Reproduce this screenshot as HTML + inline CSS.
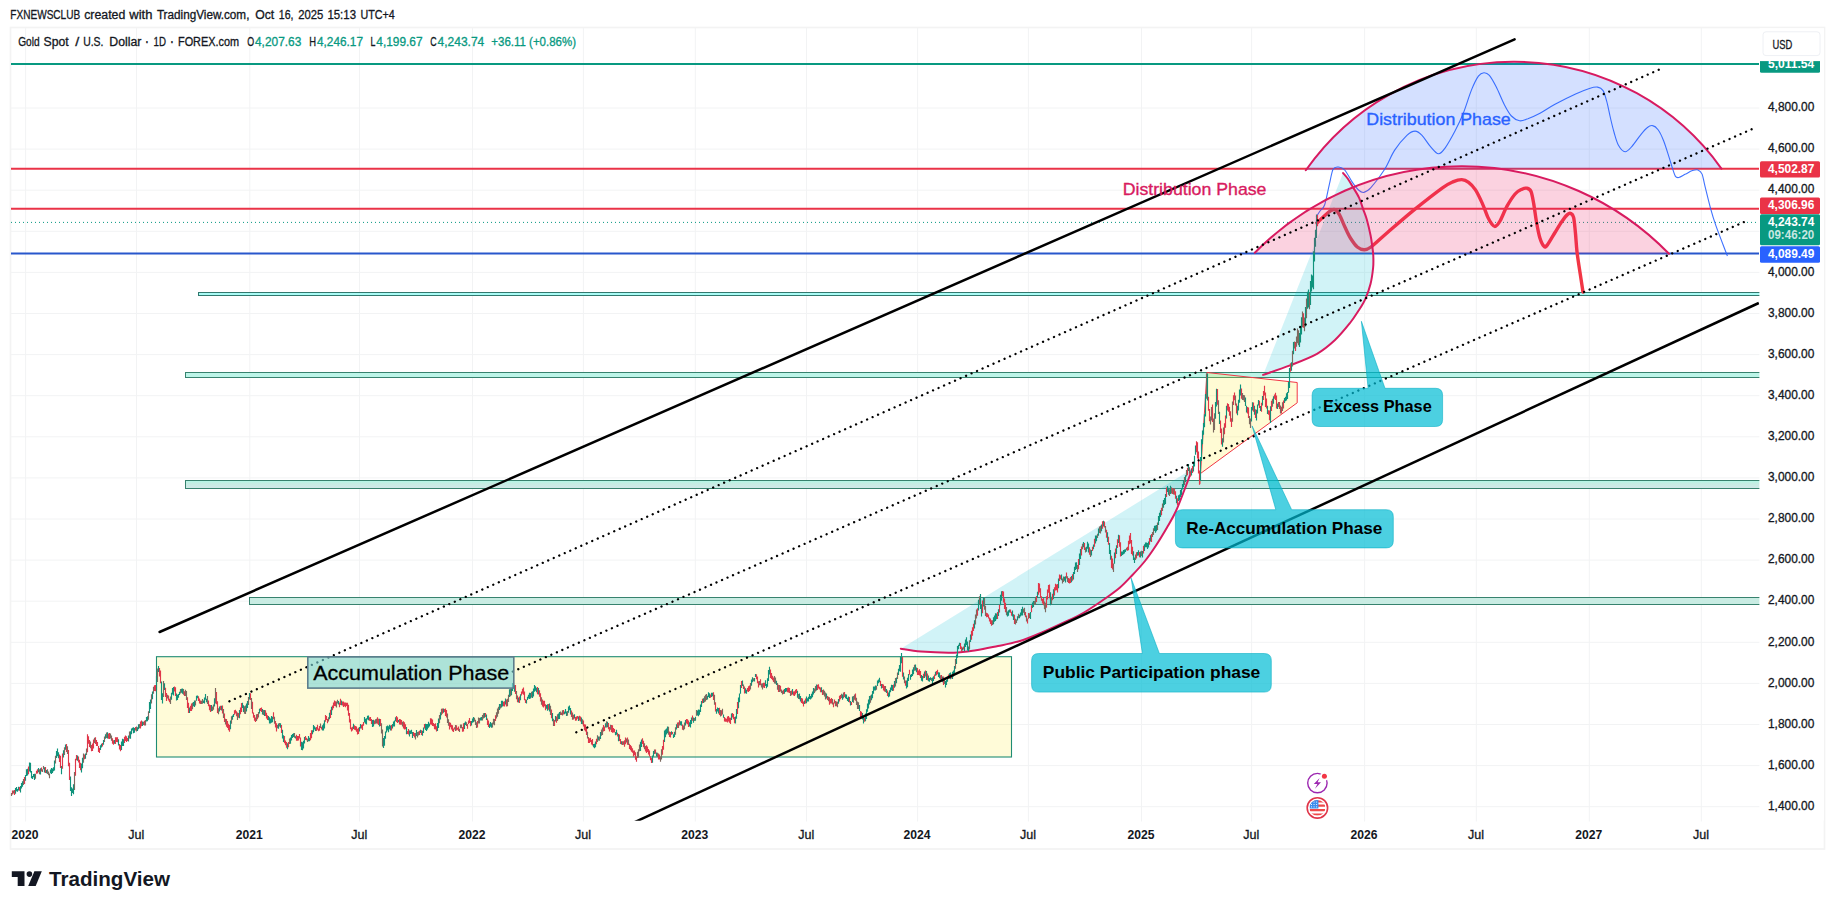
<!DOCTYPE html>
<html lang="en"><head><meta charset="utf-8"><title>Gold Spot / U.S. Dollar</title>
<style>html,body{margin:0;padding:0;background:#fff}body{width:1835px;height:909px;overflow:hidden}svg{display:block}text{font-family:'Liberation Sans', 'DejaVu Sans', sans-serif}.t{stroke:#131722;stroke-width:.3px}.g{stroke:#089981;stroke-width:.3px}</style>
</head><body>
<svg width="1835" height="909" viewBox="0 0 1835 909">
<rect width="1835" height="909" fill="#fff"/>
<rect x="10.5" y="27.5" width="1814" height="821.5" fill="none" stroke="#f3f3f3" stroke-width="1.7"/>
<path d="M25.6,28V821.5M136.5,28V821.5M249.8,28V821.5M359.5,28V821.5M472.5,28V821.5M583.4,28V821.5M695.3,28V821.5M806.5,28V821.5M917.6,28V821.5M1028.4,28V821.5M1141.5,28V821.5M1251.6,28V821.5M1364.6,28V821.5M1476.3,28V821.5M1589.3,28V821.5M1701.3,28V821.5M11,806.7H1760M11,765.6H1760M11,724.5H1760M11,683.4H1760M11,642.3H1760M11,601.2H1760M11,560.1H1760M11,519.0H1760M11,477.9H1760M11,436.8H1760M11,395.7H1760M11,354.6H1760M11,313.5H1760M11,272.4H1760M11,231.3H1760M11,190.2H1760M11,149.1H1760M11,108.0H1760" stroke="#f2f3f4" stroke-width="1" fill="none"/>
<rect x="198.5" y="292.5" width="1567.5" height="3.0" fill="#a8fbf5" stroke="#32786e" stroke-width="1"/>
<rect x="185.5" y="372.5" width="1580.5" height="5.0" fill="#bcf5e8" stroke="#37826e" stroke-width="1"/>
<linearGradient id="bg" x1="0" y1="0" x2="0" y2="1"><stop offset="0" stop-color="#aefae6"/><stop offset="0.35" stop-color="#c4ede3"/><stop offset="1" stop-color="#d2e8e8"/></linearGradient>
<rect x="185.5" y="480.5" width="1580.5" height="8.0" fill="url(#bg)" stroke="#37826e" stroke-width="1"/>
<rect x="249.5" y="597.5" width="1516.5" height="7.0" fill="#c9ece3" stroke="#37826e" stroke-width="1"/>
<rect x="156.5" y="656.7" width="855" height="100.3" fill="rgba(255,235,59,0.2)" stroke="#1f8c74" stroke-width="1.1"/>
<path d="M11,63.9H1759" stroke="#089981" stroke-width="2"/>
<path d="M11,168.8H1759" stroke="#ea3347" stroke-width="2"/>
<path d="M11,208.8H1759" stroke="#ea3347" stroke-width="2"/>
<path d="M11,222.4H1759" stroke="#089981" stroke-width="1" stroke-dasharray="1 3"/>
<path d="M11,253.6H1759" stroke="#2857cc" stroke-width="2"/>
<path d="M1316.2,217.0 C1316.8,216.0 1318.6,213.1 1320.0,211.0 C1321.4,208.9 1323.2,209.1 1324.7,204.7 C1326.2,200.3 1327.9,190.6 1329.3,184.7 C1330.7,178.8 1331.6,172.2 1333.1,169.3 C1334.6,166.4 1336.6,166.9 1338.5,167.0 C1340.4,167.1 1342.4,167.4 1344.7,170.0 C1347.0,172.6 1350.1,179.1 1352.4,182.4 C1354.7,185.7 1356.6,188.3 1358.5,190.0 C1360.4,191.7 1361.8,192.8 1363.9,192.4 C1366.0,192.0 1367.4,191.5 1370.9,187.7 C1374.4,183.8 1380.8,175.5 1384.7,169.3 C1388.6,163.1 1390.8,156.1 1394.5,150.4 C1398.2,144.7 1403.5,138.5 1406.9,135.3 C1410.3,132.1 1412.6,131.1 1415.1,131.1 C1417.6,131.1 1419.5,132.8 1422.0,135.3 C1424.5,137.8 1427.5,143.2 1430.3,146.3 C1433.0,149.4 1436.0,153.6 1438.5,153.8 C1441.0,154.0 1442.7,151.4 1445.4,147.6 C1448.2,143.8 1452.0,136.8 1455.0,131.1 C1458.0,125.4 1460.5,120.2 1463.3,113.3 C1466.0,106.4 1469.0,96.1 1471.5,89.9 C1474.0,83.7 1476.3,79.0 1478.4,76.1 C1480.5,73.2 1482.1,72.8 1483.9,72.7 C1485.7,72.6 1487.3,73.0 1489.4,75.4 C1491.5,77.8 1493.8,82.2 1496.3,87.1 C1498.8,92.0 1502.0,100.2 1504.5,105.0 C1507.0,109.8 1508.9,113.4 1511.4,116.0 C1513.9,118.6 1516.8,120.3 1519.6,120.8 C1522.3,121.3 1524.5,120.0 1527.9,118.8 C1531.3,117.5 1535.5,115.7 1540.0,113.3 C1544.5,110.9 1549.1,107.5 1555.0,104.3 C1560.9,101.1 1569.9,96.6 1575.6,94.0 C1581.3,91.4 1585.7,89.7 1589.4,88.5 C1593.1,87.3 1595.3,86.8 1597.6,87.1 C1599.9,87.4 1601.6,88.3 1603.1,90.6 C1604.6,92.9 1605.4,96.7 1606.6,100.9 C1607.8,105.1 1608.8,110.7 1610.0,116.0 C1611.2,121.3 1612.7,127.7 1614.1,132.5 C1615.5,137.3 1616.5,141.7 1618.3,144.9 C1620.1,148.1 1622.8,151.6 1625.1,151.8 C1627.4,152.0 1629.5,149.1 1632.0,146.3 C1634.5,143.6 1637.8,138.4 1640.3,135.3 C1642.8,132.2 1645.0,129.3 1647.1,127.7 C1649.1,126.1 1650.8,125.2 1652.6,125.6 C1654.4,125.9 1656.3,127.3 1658.1,129.8 C1659.9,132.3 1661.8,136.2 1663.6,140.8 C1665.4,145.4 1667.7,153.0 1669.1,157.3 C1670.5,161.6 1670.9,163.4 1671.9,166.5 C1672.9,169.6 1674.2,174.3 1675.3,176.1 C1676.4,177.9 1677.1,177.8 1678.8,177.5 C1680.5,177.2 1683.3,175.2 1685.6,174.1 C1687.9,172.9 1690.4,171.3 1692.5,170.6 C1694.6,169.9 1696.4,169.3 1698.0,169.9 C1699.6,170.5 1700.9,171.4 1702.1,174.1 C1703.2,176.8 1703.5,180.2 1704.9,185.8 C1706.3,191.4 1708.6,201.2 1710.4,207.8 C1712.2,214.4 1713.1,217.6 1715.9,225.6 C1718.7,233.6 1725.5,250.9 1727.4,256.0" fill="none" stroke="#2962ff" stroke-width="1.1" opacity="0.9"/>
<path d="M1317.0,223.0 C1318.2,221.8 1322.0,218.1 1324.3,216.0 C1326.6,213.9 1329.3,211.5 1331.1,210.5 C1332.9,209.5 1333.9,209.1 1335.3,209.8 C1336.7,210.5 1337.8,211.7 1339.4,214.6 C1341.0,217.5 1343.1,223.1 1344.9,227.0 C1346.7,230.9 1348.3,234.7 1350.4,238.0 C1352.5,241.3 1355.0,245.1 1357.3,247.0 C1359.6,248.9 1361.8,249.7 1364.1,249.7 C1366.4,249.7 1367.1,249.9 1371.0,247.0 C1374.9,244.1 1380.2,238.8 1387.5,232.5 C1394.8,226.2 1405.8,216.5 1415.0,209.1 C1424.2,201.7 1436.1,192.4 1442.5,187.8 C1448.9,183.2 1450.3,183.0 1453.5,181.6 C1456.7,180.2 1459.3,179.5 1461.8,179.6 C1464.3,179.7 1466.3,180.6 1468.6,182.3 C1470.9,184.0 1473.2,186.4 1475.5,189.9 C1477.8,193.4 1480.3,199.0 1482.4,203.6 C1484.5,208.2 1486.3,213.9 1487.9,217.4 C1489.5,220.9 1490.8,222.8 1492.0,224.3 C1493.2,225.8 1494.1,226.9 1495.4,226.3 C1496.7,225.8 1498.1,224.3 1500.0,221.0 C1501.9,217.7 1504.4,210.9 1506.9,206.4 C1509.4,201.9 1512.6,196.9 1515.1,194.0 C1517.6,191.1 1520.0,190.2 1522.0,189.2 C1524.0,188.2 1525.3,187.8 1526.8,188.2 C1528.3,188.5 1529.8,188.7 1530.9,191.3 C1532.1,193.9 1532.8,198.6 1533.7,203.6 C1534.6,208.6 1535.4,215.8 1536.4,221.5 C1537.4,227.2 1538.6,233.9 1539.9,238.0 C1541.2,242.1 1542.8,245.2 1544.0,246.3 C1545.2,247.5 1545.6,247.2 1547.4,244.9 C1549.2,242.6 1552.6,236.4 1555.0,232.5 C1557.4,228.6 1559.8,224.5 1561.9,221.5 C1564.0,218.5 1565.9,215.9 1567.4,214.6 C1568.9,213.3 1569.8,213.0 1570.8,213.5 C1571.8,214.0 1572.8,214.2 1573.6,217.4 C1574.4,220.6 1574.8,226.8 1575.4,232.5 C1576.0,238.2 1576.2,244.7 1577.0,251.8 C1577.8,258.9 1579.4,268.3 1580.4,275.0 C1581.4,281.7 1582.6,289.2 1583.0,292.0" fill="none" stroke="#f23645" stroke-width="3.4" stroke-linejoin="round" stroke-linecap="round"/>
<path d="M900.8,648.7 C904.2,649.2 912.1,650.9 921.0,651.6 C929.9,652.3 944.8,652.9 954.0,652.7 C963.2,652.5 968.7,651.4 976.0,650.3 C983.3,649.2 990.7,647.5 998.0,646.0 C1005.3,644.5 1012.7,643.2 1020.0,641.0 C1027.3,638.8 1034.7,635.6 1042.0,632.5 C1049.3,629.4 1057.0,625.8 1064.0,622.5 C1071.0,619.2 1077.0,616.6 1084.0,612.5 C1091.0,608.4 1100.0,602.2 1106.0,598.0 C1112.0,593.8 1115.7,591.2 1120.0,587.5 C1124.3,583.8 1127.8,579.9 1132.0,575.5 C1136.2,571.1 1141.0,566.0 1145.0,561.0 C1149.0,556.0 1152.3,551.1 1156.0,545.5 C1159.7,539.9 1163.7,533.2 1167.0,527.5 C1170.3,521.8 1173.2,517.1 1176.0,511.0 C1178.8,504.9 1181.7,497.0 1184.0,491.0 C1186.3,485.0 1188.7,478.7 1190.0,475.0 C1191.3,471.3 1191.7,470.0 1192.0,469.0 Z" fill="rgba(0,188,212,0.18)" stroke="none"/>
<path d="M900.8,648.7 C904.2,649.2 912.1,650.9 921.0,651.6 C929.9,652.3 944.8,652.9 954.0,652.7 C963.2,652.5 968.7,651.4 976.0,650.3 C983.3,649.2 990.7,647.5 998.0,646.0 C1005.3,644.5 1012.7,643.2 1020.0,641.0 C1027.3,638.8 1034.7,635.6 1042.0,632.5 C1049.3,629.4 1057.0,625.8 1064.0,622.5 C1071.0,619.2 1077.0,616.6 1084.0,612.5 C1091.0,608.4 1100.0,602.2 1106.0,598.0 C1112.0,593.8 1115.7,591.2 1120.0,587.5 C1124.3,583.8 1127.8,579.9 1132.0,575.5 C1136.2,571.1 1141.0,566.0 1145.0,561.0 C1149.0,556.0 1152.3,551.1 1156.0,545.5 C1159.7,539.9 1163.7,533.2 1167.0,527.5 C1170.3,521.8 1173.2,517.1 1176.0,511.0 C1178.8,504.9 1181.7,497.0 1184.0,491.0 C1186.3,485.0 1188.7,478.7 1190.0,475.0 C1191.3,471.3 1191.7,470.0 1192.0,469.0" fill="none" stroke="#d81b60" stroke-width="2" stroke-linecap="round"/>
<path d="M1263.1,374.9 C1267.6,373.3 1281.0,368.9 1290.0,365.4 C1299.0,361.9 1309.5,358.0 1317.0,353.8 C1324.5,349.6 1329.5,345.1 1335.0,340.0 C1340.5,334.9 1346.0,328.0 1350.0,323.0 C1354.0,318.0 1356.4,314.0 1359.0,310.0 C1361.6,306.0 1363.5,303.1 1365.4,298.8 C1367.3,294.5 1369.2,289.1 1370.5,284.0 C1371.8,278.9 1372.6,272.7 1373.1,268.0 C1373.6,263.3 1373.4,259.7 1373.3,256.0 C1373.2,252.3 1372.7,249.4 1372.2,246.0 C1371.8,242.6 1371.5,239.9 1370.6,235.5 C1369.7,231.1 1368.0,224.0 1366.8,219.6 C1365.6,215.2 1364.5,213.0 1363.2,209.3 C1361.9,205.6 1360.8,201.4 1359.0,197.6 C1357.2,193.8 1354.2,189.3 1352.4,186.2 C1350.6,183.1 1349.5,181.2 1348.0,179.0 C1346.5,176.8 1343.9,174.1 1343.1,173.1 Z" fill="rgba(0,188,212,0.18)" stroke="none"/>
<path d="M1263.1,374.9 C1267.6,373.3 1281.0,368.9 1290.0,365.4 C1299.0,361.9 1309.5,358.0 1317.0,353.8 C1324.5,349.6 1329.5,345.1 1335.0,340.0 C1340.5,334.9 1346.0,328.0 1350.0,323.0 C1354.0,318.0 1356.4,314.0 1359.0,310.0 C1361.6,306.0 1363.5,303.1 1365.4,298.8 C1367.3,294.5 1369.2,289.1 1370.5,284.0 C1371.8,278.9 1372.6,272.7 1373.1,268.0 C1373.6,263.3 1373.4,259.7 1373.3,256.0 C1373.2,252.3 1372.7,249.4 1372.2,246.0 C1371.8,242.6 1371.5,239.9 1370.6,235.5 C1369.7,231.1 1368.0,224.0 1366.8,219.6 C1365.6,215.2 1364.5,213.0 1363.2,209.3 C1361.9,205.6 1360.8,201.4 1359.0,197.6 C1357.2,193.8 1354.2,189.3 1352.4,186.2 C1350.6,183.1 1349.5,181.2 1348.0,179.0 C1346.5,176.8 1343.9,174.1 1343.1,173.1" fill="none" stroke="#d81b60" stroke-width="2" stroke-linecap="round"/>
<path d="M1207,372.5 L1297.2,382.5 L1297.2,402.8 L1200.5,473.5 Z" fill="rgba(255,235,59,0.22)" stroke="#f23645" stroke-width="1"/>
<path d="M1200.5,473.5 L1199.9,484" stroke="#f23645" stroke-width="1" fill="none"/>
<path d="M15.5,788.0V793.8M16.5,786.9V791.3M17.5,789.1V791.7M18.5,786.8V790.5M20.5,786.1V792.4M21.5,783.0V788.5M22.5,781.2V786.8M25.5,775.0V780.8M26.5,769.2V776.1M27.5,768.8V775.4M29.5,762.6V771.4M30.5,762.7V772.4M31.5,771.0V778.2M32.5,775.9V779.0M33.5,773.9V777.3M34.5,773.8V780.0M38.5,767.9V772.3M40.5,768.2V774.6M44.5,767.2V772.4M46.5,769.9V773.2M50.5,769.5V773.2M51.5,767.9V774.0M52.5,768.5V773.1M53.5,767.2V771.2M54.5,760.6V770.6M56.5,751.1V757.9M57.5,748.5V756.2M58.5,752.2V758.3M61.5,766.1V774.2M63.5,750.3V757.6M65.5,744.5V749.8M70.5,776.6V791.0M71.5,787.2V796.1M72.5,788.6V793.1M73.5,784.3V794.2M77.5,755.4V760.7M81.5,763.6V772.6M82.5,757.8V768.2M85.5,753.4V758.8M100.5,745.2V749.9M101.5,743.7V747.5M103.5,739.9V744.8M105.5,734.3V738.8M107.5,732.2V738.5M114.5,739.9V743.8M118.5,739.3V745.4M121.5,741.6V750.0M122.5,738.7V746.0M123.5,739.3V745.9M128.5,735.5V741.6M130.5,731.2V738.8M131.5,728.6V734.2M132.5,727.8V730.5M133.5,727.3V733.2M134.5,728.1V732.7M137.5,727.2V730.9M138.5,724.2V729.3M142.5,721.5V725.9M146.5,717.1V721.6M147.5,716.2V721.2M149.5,702.1V713.0M150.5,699.5V709.0M152.5,691.5V699.3M156.5,676.3V689.9M158.5,665.9V671.9M161.5,681.5V700.1M162.5,693.2V703.6M164.5,683.3V690.0M171.5,692.7V699.8M172.5,687.9V694.6M173.5,687.1V695.4M176.5,693.5V700.5M177.5,694.7V700.0M178.5,693.9V697.7M179.5,691.8V695.0M181.5,688.8V692.8M182.5,688.6V693.7M189.5,707.5V713.0M193.5,702.1V706.3M194.5,700.6V707.1M196.5,695.8V700.7M197.5,695.5V698.3M203.5,700.6V703.0M204.5,697.6V703.6M205.5,694.0V699.8M206.5,698.8V702.2M211.5,704.9V711.3M214.5,698.3V706.4M219.5,706.5V711.4M221.5,705.8V710.4M230.5,720.6V729.3M232.5,715.5V719.8M233.5,714.0V717.0M239.5,710.0V718.2M242.5,702.7V707.9M243.5,705.2V711.9M246.5,703.4V711.5M247.5,700.9V708.1M249.5,693.0V699.4M259.5,708.7V713.5M262.5,709.1V714.6M264.5,710.0V716.0M268.5,716.1V720.2M269.5,717.3V723.6M270.5,718.5V723.4M271.5,716.1V722.8M272.5,716.7V722.2M278.5,723.4V728.8M280.5,723.2V727.8M282.5,729.7V738.6M283.5,735.2V741.9M287.5,743.2V749.3M290.5,737.5V743.7M291.5,735.0V740.5M292.5,733.9V738.0M293.5,733.2V737.1M295.5,736.2V738.6M301.5,741.7V750.1M302.5,742.3V750.2M303.5,740.7V748.5M304.5,736.9V743.6M308.5,736.0V741.2M309.5,737.8V741.3M312.5,730.2V734.2M313.5,725.1V732.2M314.5,726.2V729.6M315.5,727.6V731.0M322.5,725.2V730.4M323.5,723.5V730.4M324.5,720.2V728.4M329.5,712.8V719.2M331.5,706.8V715.1M338.5,701.1V704.5M341.5,700.4V705.2M353.5,723.8V728.9M359.5,727.0V731.6M360.5,724.1V728.5M364.5,716.9V722.5M365.5,718.7V723.7M366.5,718.2V724.4M367.5,715.7V719.6M368.5,715.4V720.3M372.5,720.0V726.9M373.5,719.7V726.4M379.5,718.7V726.5M383.5,738.0V747.9M384.5,736.0V745.7M385.5,731.4V738.8M386.5,726.3V732.4M387.5,725.5V730.6M388.5,726.3V732.2M389.5,724.8V729.2M390.5,725.4V730.5M392.5,723.9V728.5M393.5,721.4V726.6M394.5,720.5V726.5M395.5,717.3V721.3M398.5,719.9V722.2M406.5,727.1V734.2M409.5,730.6V736.6M410.5,730.6V734.1M411.5,729.7V733.7M412.5,731.9V738.1M416.5,730.1V736.0M420.5,729.7V732.9M422.5,730.7V735.7M423.5,727.5V733.0M425.5,723.7V730.0M426.5,724.1V730.9M427.5,724.0V729.5M428.5,721.8V727.8M429.5,723.5V726.5M437.5,723.1V731.0M438.5,718.6V727.9M440.5,712.2V719.5M443.5,708.6V712.8M464.5,722.8V729.1M465.5,721.4V725.1M471.5,720.9V725.5M472.5,718.5V722.7M473.5,717.0V722.3M480.5,717.5V720.5M481.5,716.9V720.4M484.5,713.0V717.8M486.5,714.4V720.0M489.5,723.7V727.9M490.5,722.0V726.8M491.5,723.2V727.8M499.5,704.1V710.0M501.5,700.8V707.6M502.5,700.7V706.6M505.5,698.6V704.5M509.5,689.3V697.1M511.5,688.5V695.2M512.5,682.9V691.0M514.5,685.3V691.7M518.5,697.5V702.6M520.5,694.2V700.2M526.5,699.8V703.5M527.5,696.7V700.1M528.5,694.8V698.5M529.5,692.8V698.9M530.5,693.0V698.6M532.5,691.2V697.9M533.5,688.4V696.5M534.5,685.0V691.7M535.5,686.3V690.7M536.5,687.7V692.2M538.5,688.1V694.4M546.5,705.0V708.7M547.5,704.2V710.8M549.5,703.4V711.5M552.5,713.1V721.2M555.5,715.9V721.4M558.5,713.4V719.2M559.5,712.1V719.1M564.5,711.4V714.3M565.5,709.1V713.6M566.5,711.4V715.9M568.5,706.4V712.8M569.5,705.4V710.2M570.5,708.0V714.4M574.5,714.2V718.5M578.5,716.6V721.0M581.5,717.4V723.9M593.5,744.0V747.2M594.5,743.8V748.3M595.5,741.4V747.3M598.5,736.4V740.5M600.5,731.9V738.9M605.5,723.3V727.6M607.5,721.7V727.2M615.5,732.1V735.2M616.5,729.8V734.8M618.5,734.1V741.2M621.5,741.3V744.6M640.5,741.7V751.1M641.5,739.4V746.9M652.5,755.5V762.8M653.5,751.0V756.8M656.5,752.4V756.6M664.5,730.6V741.9M665.5,729.6V737.3M666.5,728.6V734.4M667.5,726.6V733.2M671.5,731.3V734.8M673.5,734.3V738.1M674.5,731.8V737.0M676.5,724.3V729.4M680.5,721.3V725.2M681.5,721.3V725.8M685.5,720.0V725.6M689.5,722.2V726.6M690.5,719.9V727.4M691.5,717.5V724.1M693.5,717.6V722.7M695.5,716.7V720.8M697.5,710.4V715.5M698.5,709.6V716.2M699.5,709.8V714.8M700.5,704.5V711.9M701.5,701.1V707.0M703.5,698.3V703.1M707.5,695.7V699.5M708.5,692.2V697.0M709.5,693.3V697.9M711.5,692.8V697.0M712.5,692.8V696.2M716.5,709.1V713.8M717.5,707.5V711.6M718.5,708.1V713.6M723.5,714.5V717.8M731.5,713.5V719.9M735.5,716.5V723.6M736.5,708.9V718.7M738.5,697.6V708.3M739.5,693.4V702.3M740.5,685.0V693.8M742.5,680.4V686.0M745.5,688.2V693.2M746.5,689.8V693.8M751.5,679.5V685.8M752.5,677.3V682.3M754.5,678.0V681.4M755.5,674.0V677.0M765.5,680.3V685.9M766.5,683.9V688.2M767.5,678.2V686.7M768.5,669.9V680.9M769.5,666.8V674.4M776.5,680.7V685.0M784.5,688.9V693.7M785.5,687.9V692.0M786.5,687.9V691.5M792.5,689.0V694.5M797.5,690.8V697.7M799.5,693.6V699.3M800.5,696.1V701.5M804.5,700.4V703.9M806.5,696.6V703.2M807.5,698.3V701.5M808.5,696.7V701.6M809.5,694.1V699.1M810.5,695.9V699.4M811.5,693.7V698.4M812.5,691.6V697.3M813.5,688.0V694.6M816.5,684.6V690.6M821.5,687.3V692.3M826.5,693.4V698.5M838.5,698.9V703.8M842.5,694.6V699.8M845.5,694.2V698.2M846.5,694.4V699.1M847.5,697.8V701.0M848.5,696.4V702.1M850.5,700.9V705.6M852.5,696.5V702.1M859.5,705.1V710.9M862.5,712.9V719.5M863.5,716.2V723.4M865.5,713.6V721.3M866.5,709.3V718.9M867.5,703.4V711.8M868.5,699.6V708.4M869.5,696.0V704.5M871.5,694.6V700.2M872.5,690.9V698.2M873.5,686.6V693.8M874.5,686.4V690.5M875.5,685.5V690.6M877.5,680.6V686.1M878.5,679.4V683.3M879.5,677.8V682.3M881.5,684.1V688.6M886.5,689.0V692.9M888.5,692.5V697.3M889.5,690.2V696.6M890.5,687.4V692.3M891.5,684.8V690.3M892.5,685.1V690.9M894.5,681.1V687.7M896.5,677.5V683.3M898.5,668.7V675.0M899.5,665.0V671.2M900.5,656.5V671.8M901.5,653.1V663.3M903.5,672.5V679.5M906.5,680.6V688.6M907.5,677.8V687.2M908.5,673.9V681.0M910.5,674.7V679.7M911.5,674.0V677.1M912.5,669.4V675.9M913.5,667.2V674.2M915.5,664.5V670.6M916.5,667.4V672.2M921.5,675.1V680.8M922.5,676.1V681.6M924.5,671.5V678.0M926.5,671.1V680.1M928.5,675.6V681.2M929.5,677.9V681.8M930.5,677.3V680.0M932.5,677.5V684.3M933.5,676.3V681.0M935.5,671.7V675.8M938.5,672.2V676.9M939.5,672.6V678.3M942.5,676.6V682.2M945.5,681.1V687.5M946.5,680.1V685.1M947.5,676.6V681.7M949.5,673.3V678.7M950.5,672.5V679.3M952.5,671.7V679.1M953.5,670.5V676.5M954.5,665.9V672.9M956.5,654.5V664.1M957.5,646.1V657.8M958.5,644.7V649.3M959.5,642.7V646.1M962.5,647.6V650.5M964.5,643.4V651.2M965.5,639.4V646.9M966.5,637.2V644.9M967.5,641.4V650.6M968.5,646.4V651.6M970.5,634.4V642.1M974.5,620.3V628.4M978.5,599.7V610.4M980.5,594.0V609.1M981.5,604.3V616.5M983.5,596.9V606.6M993.5,617.2V624.3M994.5,615.4V621.8M995.5,613.3V620.9M996.5,613.6V619.3M998.5,609.3V615.9M1000.5,594.8V605.3M1001.5,591.2V600.7M1007.5,611.5V616.6M1008.5,610.3V615.7M1009.5,609.6V612.6M1012.5,610.4V616.6M1013.5,614.2V620.1M1017.5,616.2V620.6M1019.5,614.7V618.3M1020.5,612.6V616.5M1021.5,609.0V615.4M1022.5,606.8V615.4M1030.5,612.0V619.1M1032.5,602.4V608.0M1033.5,601.1V606.9M1037.5,591.7V598.0M1050.5,592.2V605.2M1053.5,589.2V598.9M1058.5,578.5V588.3M1061.5,574.6V580.2M1064.5,576.8V580.7M1065.5,576.3V582.4M1071.5,575.9V582.2M1073.5,572.1V579.5M1074.5,566.8V573.9M1075.5,562.6V570.1M1076.5,562.3V569.0M1079.5,553.6V565.0M1080.5,549.0V558.9M1083.5,541.9V547.2M1086.5,546.8V551.8M1087.5,541.8V548.7M1088.5,543.4V552.4M1091.5,550.1V555.4M1093.5,544.4V549.3M1095.5,535.4V543.6M1096.5,535.4V541.2M1098.5,528.5V535.7M1101.5,524.5V531.2M1103.5,520.8V526.5M1107.5,532.3V542.0M1109.5,542.9V554.1M1110.5,550.0V559.8M1114.5,552.6V563.8M1116.5,545.3V554.0M1118.5,534.7V543.1M1121.5,551.5V556.1M1122.5,551.4V555.1M1123.5,549.9V554.2M1124.5,549.6V553.6M1125.5,549.2V552.0M1133.5,551.2V559.9M1134.5,557.6V562.9M1137.5,551.9V555.8M1138.5,550.3V555.4M1140.5,551.5V557.5M1142.5,551.1V557.5M1144.5,544.2V551.0M1145.5,542.5V547.3M1146.5,542.6V547.2M1147.5,543.0V548.9M1148.5,541.4V547.4M1150.5,535.2V541.4M1154.5,525.7V530.9M1155.5,525.5V532.7M1156.5,525.1V531.3M1158.5,516.1V525.1M1159.5,512.7V521.1M1160.5,510.3V516.9M1163.5,499.9V507.7M1164.5,498.0V504.9M1165.5,494.0V504.1M1167.5,486.1V492.1M1168.5,487.8V494.7M1170.5,485.8V493.9M1176.5,495.8V503.3M1178.5,495.2V500.9M1179.5,494.6V500.2M1180.5,490.0V497.0M1181.5,488.4V495.0M1182.5,484.1V489.4M1183.5,480.3V486.9M1185.5,475.2V482.0M1188.5,464.0V470.9M1191.5,469.3V475.4M1193.5,462.3V471.5M1194.5,455.8V466.5M1195.5,445.6V454.8M1200.5,457.1V481.1M1201.5,439.2V461.1M1202.5,430.4V444.2M1203.5,423.0V434.8M1204.5,414.2V427.2M1205.5,394.0V416.4M1207.5,373.6V400.5M1215.5,402.0V418.7M1216.5,388.8V406.4M1219.5,411.8V424.1M1222.5,438.3V446.8M1226.5,405.8V418.6M1237.5,405.8V415.2M1238.5,399.8V410.4M1239.5,389.5V402.7M1240.5,384.5V395.4M1245.5,397.4V406.1M1246.5,405.8V412.4M1251.5,407.0V421.5M1252.5,402.3V410.4M1254.5,405.7V414.7M1256.5,409.8V420.5M1257.5,404.4V413.6M1258.5,400.1V405.4M1260.5,406.0V411.0M1262.5,396.1V405.6M1267.5,405.7V413.9M1270.5,406.3V423.0M1273.5,396.2V403.7M1277.5,403.6V409.0M1284.5,398.1V403.1M1285.5,396.8V401.2M1286.5,393.3V400.4M1287.5,392.1V399.1M1288.5,382.1V392.7M1289.5,368.1V388.0M1291.5,362.2V370.8M1293.5,342.0V354.2M1299.5,333.1V347.0M1300.5,325.9V342.5M1301.5,317.2V334.5M1305.5,306.9V326.6M1307.5,291.7V308.8M1308.5,289.6V307.6M1310.5,280.9V305.1M1311.5,274.6V291.5M1312.5,275.4V287.4M1313.5,251.3V289.3M1314.5,237.7V261.4M1315.5,229.7V246.7M1316.5,214.6V238.0" stroke="#0f937c" stroke-width="1.15" fill="none"/>
<path d="M12.5,790.5V794.6M14.5,789.9V794.9M19.5,787.1V790.8M24.5,777.1V783.9M28.5,766.4V774.2M36.5,770.7V773.8M37.5,769.3V773.5M41.5,767.4V771.6M45.5,767.0V773.0M59.5,754.4V761.9M60.5,755.7V767.9M62.5,753.5V768.8M66.5,744.1V751.9M68.5,750.1V766.3M69.5,762.7V779.9M75.5,758.7V775.8M76.5,755.1V760.3M78.5,756.5V762.6M79.5,759.8V768.1M80.5,762.7V770.2M84.5,754.4V759.3M87.5,734.2V752.3M88.5,736.2V743.8M89.5,739.9V746.9M91.5,745.1V751.2M92.5,743.5V751.1M93.5,739.4V748.5M95.5,737.2V744.0M96.5,739.9V746.0M97.5,742.1V746.0M98.5,746.0V752.1M99.5,748.1V753.1M102.5,742.9V746.4M108.5,733.4V738.8M109.5,733.0V739.0M112.5,738.2V743.7M113.5,740.2V744.8M115.5,737.2V744.1M116.5,737.3V742.1M117.5,737.3V742.3M119.5,743.9V749.5M120.5,745.1V751.3M124.5,736.8V742.9M125.5,735.4V740.9M126.5,736.2V742.0M127.5,738.0V741.1M135.5,726.9V730.5M140.5,721.4V728.6M141.5,720.4V726.2M144.5,720.7V725.5M154.5,685.2V690.9M155.5,685.0V691.3M159.5,668.0V676.4M160.5,670.5V683.3M165.5,687.8V696.9M166.5,693.1V701.0M168.5,695.5V700.5M169.5,698.7V702.3M174.5,686.4V691.6M175.5,687.3V695.9M184.5,691.3V696.0M187.5,697.2V708.1M188.5,702.7V713.0M190.5,705.8V711.1M191.5,703.5V710.9M198.5,696.2V700.9M199.5,698.4V703.4M200.5,700.5V703.9M208.5,700.4V706.2M209.5,704.6V710.2M210.5,705.1V711.9M216.5,691.9V704.3M217.5,701.2V713.0M220.5,705.8V710.1M222.5,705.5V713.4M224.5,713.4V722.1M226.5,719.1V726.8M227.5,721.0V728.1M228.5,723.8V730.3M229.5,725.0V731.7M234.5,710.3V714.7M235.5,709.7V713.6M236.5,711.2V716.2M238.5,713.1V717.8M240.5,707.5V714.3M241.5,703.0V712.0M250.5,693.2V700.1M252.5,701.7V713.5M253.5,712.4V717.8M254.5,715.1V720.7M255.5,717.4V721.9M257.5,714.0V719.3M260.5,708.0V711.1M261.5,707.6V712.0M265.5,710.3V715.9M266.5,712.7V718.6M267.5,715.2V719.9M273.5,712.3V719.2M275.5,721.1V727.4M276.5,723.3V731.6M281.5,724.9V733.1M284.5,736.0V743.3M285.5,740.4V745.3M286.5,741.9V747.8M288.5,742.0V747.2M296.5,734.8V740.8M297.5,735.9V740.7M298.5,736.0V740.6M299.5,734.0V738.5M300.5,737.4V746.6M305.5,736.1V740.1M306.5,737.8V740.2M310.5,732.9V740.3M311.5,730.2V738.3M316.5,727.0V731.0M317.5,724.7V729.8M318.5,728.6V731.3M319.5,725.9V730.7M321.5,726.8V729.6M325.5,714.9V721.7M326.5,716.0V720.0M327.5,719.0V723.3M330.5,709.8V718.1M332.5,705.6V710.2M333.5,702.6V708.3M334.5,700.5V706.1M335.5,701.2V706.3M339.5,702.5V707.2M340.5,698.7V705.0M342.5,701.6V705.4M343.5,701.4V707.0M344.5,702.6V706.3M345.5,702.5V707.3M346.5,702.8V706.0M347.5,702.8V710.4M348.5,704.8V715.7M349.5,713.0V722.5M350.5,719.3V729.2M351.5,727.6V731.6M352.5,726.8V730.4M354.5,725.2V729.8M355.5,726.1V730.3M356.5,726.4V731.7M357.5,728.7V734.4M358.5,727.7V734.1M361.5,724.7V728.4M362.5,724.2V729.9M363.5,722.1V725.8M369.5,717.3V720.7M370.5,717.1V721.0M371.5,718.9V724.1M374.5,720.5V724.3M377.5,717.2V723.7M378.5,718.8V724.9M380.5,719.1V726.1M391.5,725.1V730.4M396.5,716.1V721.9M397.5,717.2V723.1M399.5,719.1V724.4M400.5,719.3V724.8M401.5,720.1V724.8M403.5,721.3V728.5M404.5,722.3V729.5M405.5,724.2V729.3M407.5,731.0V734.1M408.5,729.1V734.6M413.5,732.1V736.0M414.5,733.1V737.5M419.5,730.7V735.1M421.5,730.3V734.9M424.5,724.0V728.6M430.5,718.2V724.5M431.5,718.5V724.8M432.5,719.6V725.9M433.5,722.9V726.2M434.5,723.9V729.2M435.5,723.2V729.5M436.5,726.2V731.6M442.5,708.4V713.7M444.5,708.9V712.1M445.5,708.4V715.9M446.5,709.9V717.4M449.5,722.2V729.5M450.5,722.8V727.3M451.5,724.7V729.4M452.5,725.3V731.2M453.5,728.6V732.1M454.5,727.2V729.4M456.5,725.3V730.5M457.5,727.7V729.8M458.5,726.6V730.9M462.5,727.1V731.7M463.5,723.3V731.6M467.5,723.9V728.8M468.5,720.4V723.9M469.5,718.1V723.1M470.5,720.9V726.2M477.5,721.1V727.6M485.5,713.1V716.9M487.5,718.6V724.9M488.5,720.6V727.0M495.5,715.2V721.0M503.5,701.7V706.3M504.5,701.2V706.5M506.5,699.6V706.6M513.5,682.5V688.0M515.5,685.1V693.9M517.5,695.5V702.2M519.5,696.5V703.0M521.5,691.6V695.6M522.5,688.8V693.7M523.5,687.5V694.8M524.5,691.6V700.3M525.5,699.3V703.0M537.5,687.0V694.2M539.5,690.3V696.7M540.5,693.3V701.6M542.5,699.6V706.4M543.5,700.8V707.5M544.5,700.7V706.2M545.5,704.2V710.2M548.5,704.0V709.8M551.5,709.5V718.2M554.5,719.9V725.9M556.5,716.5V722.8M561.5,712.4V714.9M563.5,710.0V714.5M571.5,710.5V717.0M573.5,714.7V719.6M575.5,717.1V720.8M576.5,716.5V720.6M577.5,715.9V718.7M579.5,715.8V720.4M580.5,716.4V721.5M583.5,720.5V726.4M584.5,724.2V730.3M585.5,724.6V731.6M586.5,727.9V735.0M588.5,737.0V742.9M589.5,738.2V743.1M590.5,737.8V741.9M591.5,739.9V744.6M592.5,739.1V745.4M596.5,738.8V744.3M603.5,725.1V731.6M604.5,726.4V730.9M608.5,722.9V729.3M609.5,727.1V731.5M611.5,725.1V732.1M612.5,725.2V732.7M613.5,727.9V732.5M614.5,728.9V732.6M617.5,732.8V736.5M619.5,734.6V741.1M620.5,739.1V744.0M622.5,741.3V744.9M624.5,740.3V746.8M625.5,737.5V744.3M627.5,737.6V744.7M629.5,743.8V749.0M630.5,745.1V750.3M631.5,746.2V751.8M632.5,748.2V752.7M633.5,750.4V756.4M634.5,750.6V755.2M635.5,752.2V759.8M636.5,756.5V761.8M642.5,738.3V744.0M643.5,740.7V747.2M645.5,746.0V751.4M646.5,745.3V753.0M647.5,746.6V751.9M648.5,748.9V754.4M649.5,750.6V756.4M650.5,756.2V760.3M651.5,758.0V762.9M655.5,749.6V753.8M658.5,753.5V759.6M659.5,754.6V759.6M662.5,746.0V754.8M663.5,739.7V749.7M669.5,731.4V737.0M670.5,732.0V737.5M672.5,732.0V734.2M677.5,722.6V727.9M679.5,720.2V725.4M682.5,724.6V729.7M686.5,719.1V723.6M687.5,719.2V724.3M688.5,720.5V727.1M692.5,715.4V720.7M702.5,698.8V703.2M710.5,694.4V697.7M713.5,692.3V699.9M715.5,702.3V711.4M719.5,707.8V714.9M721.5,710.2V715.8M724.5,716.9V721.6M725.5,718.2V721.8M726.5,718.7V721.7M727.5,716.4V722.5M728.5,716.0V721.5M729.5,717.5V722.8M730.5,717.7V724.0M732.5,712.9V717.5M733.5,714.1V719.2M734.5,717.1V723.3M737.5,702.0V713.9M741.5,680.9V687.9M744.5,686.4V693.4M747.5,688.0V691.6M748.5,686.2V691.9M749.5,685.5V691.1M756.5,674.3V679.2M757.5,676.4V683.2M758.5,681.3V687.6M760.5,679.2V685.2M763.5,682.7V687.5M764.5,682.7V687.9M770.5,669.5V678.0M771.5,673.1V679.0M772.5,675.7V680.3M773.5,677.5V682.0M778.5,684.8V692.1M780.5,685.8V691.5M783.5,689.7V693.9M787.5,687.8V692.3M788.5,687.4V692.5M789.5,688.0V693.0M791.5,690.4V695.2M793.5,691.6V695.4M794.5,691.2V696.0M795.5,689.7V694.5M796.5,688.9V693.1M801.5,697.9V702.9M802.5,698.6V703.7M803.5,701.6V706.6M805.5,698.6V703.4M817.5,684.8V690.1M818.5,684.2V688.6M819.5,686.8V689.4M820.5,687.5V692.2M822.5,689.9V695.0M827.5,696.1V700.1M829.5,697.3V704.7M830.5,699.1V703.4M831.5,698.1V703.4M833.5,702.5V707.3M834.5,699.4V703.6M836.5,701.6V706.3M839.5,695.8V701.4M840.5,694.9V699.3M844.5,692.0V697.0M849.5,697.0V702.5M851.5,702.0V705.0M855.5,693.5V700.8M860.5,711.1V718.8M861.5,711.8V718.2M864.5,717.7V721.8M880.5,680.7V686.0M882.5,683.9V687.9M883.5,684.6V690.5M884.5,686.0V691.4M887.5,690.4V696.0M893.5,684.5V690.7M902.5,657.0V676.7M905.5,680.5V685.7M909.5,669.8V674.7M917.5,668.0V675.0M918.5,670.5V675.0M919.5,669.2V675.4M920.5,671.0V678.0M923.5,673.8V678.2M925.5,670.6V676.4M927.5,673.6V680.3M934.5,674.6V679.0M936.5,671.1V675.2M937.5,669.7V674.3M941.5,675.0V681.2M943.5,676.5V684.9M948.5,674.6V679.1M951.5,675.3V678.6M960.5,642.9V649.1M961.5,646.6V651.7M963.5,646.4V649.6M971.5,630.8V639.8M972.5,627.3V635.7M973.5,623.7V631.1M977.5,608.3V615.8M982.5,600.4V613.3M986.5,612.8V617.3M987.5,613.2V617.1M988.5,614.5V618.4M989.5,617.4V621.6M990.5,618.4V624.0M991.5,620.2V625.7M997.5,612.0V619.1M999.5,604.7V612.6M1002.5,591.1V596.5M1003.5,591.6V602.6M1004.5,598.5V609.1M1005.5,602.8V612.3M1010.5,609.6V612.7M1011.5,611.7V615.8M1014.5,614.7V623.9M1025.5,612.0V617.2M1027.5,618.4V623.4M1028.5,613.1V618.7M1031.5,605.3V612.3M1036.5,595.9V602.1M1038.5,583.0V594.7M1039.5,583.6V592.6M1040.5,588.2V597.5M1041.5,596.3V600.8M1042.5,599.1V603.6M1043.5,598.0V605.2M1046.5,596.3V607.7M1047.5,589.6V599.4M1048.5,585.0V592.8M1049.5,584.5V598.2M1052.5,593.7V600.2M1054.5,587.2V595.6M1055.5,583.7V590.4M1056.5,584.6V590.2M1057.5,584.1V592.6M1059.5,574.5V581.0M1060.5,575.3V579.3M1066.5,572.6V578.6M1068.5,577.9V582.9M1069.5,578.5V583.4M1070.5,577.0V583.0M1072.5,574.2V580.7M1078.5,558.9V569.3M1081.5,546.5V555.5M1084.5,543.0V549.9M1089.5,547.3V554.7M1092.5,546.8V550.9M1094.5,538.7V546.7M1102.5,521.3V528.8M1104.5,521.4V527.5M1106.5,529.7V537.8M1108.5,536.8V544.7M1111.5,555.8V568.1M1112.5,558.4V569.6M1115.5,548.5V558.3M1117.5,539.2V547.9M1119.5,535.3V546.7M1120.5,542.3V556.5M1127.5,546.7V550.8M1128.5,540.7V550.2M1129.5,535.4V544.2M1130.5,533.1V543.4M1131.5,540.1V554.1M1132.5,546.7V555.4M1136.5,552.2V558.6M1139.5,551.9V557.2M1143.5,545.8V553.4M1149.5,537.9V544.7M1151.5,533.9V542.1M1161.5,507.8V515.2M1166.5,487.5V497.0M1172.5,488.1V494.1M1174.5,488.5V494.8M1175.5,491.3V498.7M1177.5,498.3V505.2M1187.5,467.8V475.3M1190.5,471.9V476.6M1192.5,466.1V473.0M1196.5,441.3V452.2M1197.5,442.2V458.5M1198.5,451.6V473.5M1199.5,470.5V484.7M1208.5,396.8V410.8M1209.5,408.9V421.2M1212.5,404.6V422.1M1217.5,389.1V404.8M1220.5,420.4V432.9M1221.5,428.4V444.5M1224.5,423.3V434.2M1225.5,415.6V427.7M1227.5,403.3V410.5M1228.5,403.9V411.7M1229.5,406.8V415.8M1230.5,411.3V421.7M1231.5,418.2V426.9M1233.5,395.3V404.9M1234.5,392.6V400.2M1236.5,403.6V413.4M1241.5,388.4V398.8M1247.5,407.0V413.5M1248.5,407.5V417.9M1253.5,402.6V411.7M1255.5,409.2V418.1M1259.5,400.8V408.0M1261.5,402.8V411.8M1263.5,391.1V400.0M1264.5,385.7V395.6M1265.5,392.6V407.0M1266.5,398.6V408.5M1268.5,410.2V414.7M1269.5,410.6V420.2M1271.5,400.8V411.1M1274.5,394.6V398.7M1275.5,392.7V400.0M1276.5,395.5V408.4M1279.5,402.1V408.9M1281.5,406.7V413.4M1283.5,400.6V408.4M1290.5,363.3V371.7M1295.5,342.1V350.9M1303.5,313.3V327.7M1317.5,215.1V226.2" stroke="#e0374a" stroke-width="1.15" fill="none"/>
<path d="M11.5,793.0V796.1M13.5,790.5V793.6M23.5,779.1V785.1M35.5,773.7V778.8M39.5,769.3V774.3M42.5,769.2V771.9M43.5,766.0V769.3M47.5,769.3V773.9M48.5,771.4V775.2M49.5,773.5V778.2M55.5,755.8V763.6M64.5,747.2V755.0M67.5,746.2V753.9M74.5,772.1V790.0M83.5,753.6V762.7M86.5,748.5V755.1M90.5,741.5V748.3M94.5,737.7V743.0M104.5,736.6V742.1M106.5,732.5V737.9M110.5,733.6V738.6M111.5,735.5V740.7M129.5,731.5V738.4M136.5,726.6V731.5M139.5,724.0V728.2M143.5,721.7V724.9M145.5,719.9V725.5M148.5,711.3V719.7M151.5,694.3V703.4M153.5,686.8V693.7M157.5,668.6V681.9M163.5,681.1V696.9M167.5,694.8V698.6M170.5,696.4V704.1M180.5,689.0V693.4M183.5,689.0V694.8M185.5,689.8V695.9M186.5,690.9V700.0M192.5,702.7V709.2M195.5,700.6V705.6M201.5,700.7V704.1M202.5,698.9V703.7M207.5,696.1V703.9M212.5,706.5V711.0M213.5,704.5V709.7M215.5,688.1V703.5M218.5,708.3V714.2M223.5,709.0V718.1M225.5,718.7V724.4M231.5,716.3V723.7M237.5,712.6V720.0M244.5,706.2V713.7M245.5,705.6V713.9M248.5,697.0V704.9M251.5,697.9V708.9M256.5,714.2V721.0M258.5,712.1V717.4M263.5,709.9V715.1M274.5,716.7V723.8M277.5,724.9V728.3M279.5,722.9V726.6M289.5,738.4V744.0M294.5,733.1V737.8M307.5,738.7V741.9M320.5,723.4V727.9M328.5,717.2V721.4M336.5,701.4V707.4M337.5,699.8V703.4M375.5,719.2V723.7M376.5,718.7V723.5M381.5,723.3V733.4M382.5,729.4V746.4M402.5,721.7V726.4M415.5,733.0V739.4M417.5,732.1V737.6M418.5,731.6V735.6M439.5,715.1V723.2M441.5,708.7V715.3M447.5,713.4V723.0M448.5,719.3V725.8M455.5,725.1V731.0M459.5,728.7V731.9M460.5,724.6V728.2M461.5,724.5V728.2M466.5,722.2V725.9M474.5,717.8V721.6M475.5,719.7V725.0M476.5,722.3V728.0M478.5,717.6V723.5M479.5,718.0V723.6M482.5,714.9V720.6M483.5,713.3V718.4M492.5,722.5V727.4M493.5,718.7V724.6M494.5,719.1V725.2M496.5,712.2V718.6M497.5,708.4V716.8M498.5,706.8V713.8M500.5,703.9V708.5M507.5,698.7V706.2M508.5,694.7V701.9M510.5,688.6V696.3M516.5,690.9V699.2M531.5,691.8V697.5M541.5,697.3V704.8M550.5,705.7V715.0M553.5,718.8V726.1M557.5,714.2V721.1M560.5,711.6V714.9M562.5,710.2V715.5M567.5,710.9V715.7M572.5,712.4V719.7M582.5,719.3V724.3M587.5,731.7V738.4M597.5,735.3V742.1M599.5,736.6V740.7M601.5,729.6V735.8M602.5,727.4V734.9M606.5,721.3V727.4M610.5,724.7V729.8M623.5,741.3V744.8M626.5,738.5V742.4M628.5,739.6V745.0M637.5,751.8V758.0M638.5,749.3V757.4M639.5,744.5V751.3M644.5,743.2V749.3M654.5,749.6V754.0M657.5,752.7V756.9M660.5,756.6V761.7M661.5,749.2V759.5M668.5,726.8V734.8M675.5,727.3V734.8M678.5,722.2V727.9M683.5,725.6V730.2M684.5,722.6V729.3M694.5,718.1V721.1M696.5,710.1V715.8M704.5,696.2V702.3M705.5,694.8V701.4M706.5,693.9V700.0M714.5,694.7V704.8M720.5,710.1V716.5M722.5,708.8V714.6M743.5,684.5V689.1M750.5,683.0V689.4M753.5,678.2V681.3M759.5,681.1V685.2M761.5,683.6V687.4M762.5,683.3V689.6M774.5,676.1V683.5M775.5,677.6V683.8M777.5,682.9V689.8M779.5,684.9V691.9M781.5,689.5V693.1M782.5,690.7V694.5M790.5,691.0V695.9M798.5,694.0V699.1M814.5,688.6V693.1M815.5,686.0V691.6M823.5,689.6V694.7M824.5,690.8V696.5M825.5,692.6V699.4M828.5,696.7V701.3M832.5,699.0V704.6M835.5,701.1V706.2M837.5,701.7V707.3M841.5,693.8V698.1M843.5,692.4V698.2M853.5,696.1V702.7M854.5,694.4V699.7M856.5,697.8V705.1M857.5,701.5V709.1M858.5,702.2V709.0M870.5,695.4V702.8M876.5,685.7V689.8M885.5,685.9V691.9M895.5,678.0V686.5M897.5,672.6V678.9M904.5,676.5V683.2M914.5,664.8V670.8M931.5,677.9V680.9M940.5,675.3V679.5M944.5,678.1V684.1M955.5,659.1V668.7M969.5,640.2V649.6M975.5,614.5V624.4M976.5,609.6V618.5M979.5,596.3V604.3M984.5,597.8V609.7M985.5,605.8V616.0M992.5,620.3V624.9M1006.5,607.0V615.3M1015.5,618.7V624.6M1016.5,619.6V623.0M1018.5,613.8V618.3M1023.5,608.8V612.7M1024.5,607.7V615.3M1026.5,615.4V621.6M1029.5,613.3V617.9M1034.5,600.9V605.1M1035.5,597.8V604.8M1044.5,601.5V609.2M1045.5,602.7V612.3M1051.5,596.8V604.3M1062.5,578.4V583.5M1063.5,576.5V582.1M1067.5,576.2V582.1M1077.5,565.1V572.1M1082.5,543.7V549.3M1085.5,547.6V552.4M1090.5,549.6V557.1M1097.5,533.7V538.0M1099.5,526.6V533.1M1100.5,525.7V533.4M1105.5,526.0V532.6M1113.5,563.6V571.9M1126.5,547.8V550.2M1135.5,554.6V559.9M1141.5,550.7V556.1M1152.5,532.0V537.1M1153.5,528.3V535.0M1157.5,522.5V530.1M1162.5,503.5V511.1M1169.5,489.2V496.1M1171.5,487.2V493.6M1173.5,488.5V494.5M1184.5,476.9V485.0M1186.5,470.0V476.5M1189.5,467.2V473.8M1206.5,373.4V398.8M1210.5,416.5V424.5M1211.5,407.1V420.6M1213.5,418.5V432.4M1214.5,413.3V430.1M1218.5,400.2V414.0M1223.5,427.4V442.5M1232.5,401.5V421.8M1235.5,395.4V405.5M1242.5,393.1V399.9M1243.5,395.0V400.2M1244.5,395.2V402.1M1249.5,416.0V424.3M1250.5,418.5V427.9M1272.5,398.7V406.7M1278.5,401.9V406.9M1280.5,405.4V413.5M1282.5,402.3V410.9M1292.5,350.8V366.4M1294.5,341.6V348.5M1296.5,336.6V346.7M1297.5,328.5V343.2M1298.5,330.2V345.2M1302.5,311.4V327.2M1304.5,317.5V331.2M1306.5,298.5V318.3M1309.5,292.7V309.3" stroke="#7d6a60" stroke-width="1.15" fill="none"/>
<path d="M1305.8,170.3 A254.3,254.3 0 0 1 1721.4,168.6 Z" fill="rgba(41,98,255,0.2)" stroke="none"/>
<path d="M1305.8,170.3 A254.3,254.3 0 0 1 1721.4,168.6" fill="none" stroke="#d81b60" stroke-width="2" stroke-linecap="round"/>
<path d="M1254.8,252.8 A289.8,289.8 0 0 1 1669,253.8 Z" fill="rgba(233,30,99,0.2)" stroke="none"/>
<path d="M1254.8,252.8 A289.8,289.8 0 0 1 1669,253.8" fill="none" stroke="#d81b60" stroke-width="2" stroke-linecap="round"/>
<path d="M159.6,632 L1514.6,39.4" stroke="#000" stroke-width="2.5" stroke-linecap="round"/>
<clipPath id="pane"><rect x="10" y="28" width="1750" height="792.7"/></clipPath>
<path d="M630,824.3 L1758.8,303" stroke="#000" stroke-width="2.5" clip-path="url(#pane)"/>
<path d="M229.4,701.3 L1660,69.2" stroke="#000" stroke-width="2.35" stroke-dasharray="0.01 6" stroke-linecap="round" fill="none"/>
<path d="M512.8,671.6 L1752.3,129" stroke="#000" stroke-width="2.35" stroke-dasharray="0.01 6" stroke-linecap="round" fill="none"/>
<path d="M576.3,732.3 L1746.6,220.9" stroke="#000" stroke-width="2.35" stroke-dasharray="0.01 6" stroke-linecap="round" fill="none"/>
<text x="1122.7" y="194.6" font-size="17" fill="#d81b60" stroke="#d81b60" stroke-width=".35" textLength="143.8" lengthAdjust="spacingAndGlyphs">Distribution Phase</text>
<text x="1366.3" y="125" font-size="17" fill="#2962ff" stroke="#2962ff" stroke-width=".35" textLength="144.4" lengthAdjust="spacingAndGlyphs">Distribution Phase</text>
<rect x="307.8" y="656.9" width="206" height="31.2" fill="rgba(122,211,216,0.62)" stroke="#5d7d8c" stroke-width="1.6"/>
<text x="313.2" y="679.5" font-size="20" fill="#000" stroke="#000" stroke-width=".3" textLength="196" lengthAdjust="spacingAndGlyphs">Accumulation Phase</text>
<path d="M1038.6,653.5 H1142.4 L1131.2,578.2 L1159.4,653.5 H1264.3 Q1271.3,653.5 1271.3,660.5 V685.1 Q1271.3,692.1 1264.3,692.1 H1038.6 Q1031.6,692.1 1031.6,685.1 V660.5 Q1031.6,653.5 1038.6,653.5 Z" fill="rgba(0,188,212,0.7)" stroke="rgba(0,172,193,0.55)" stroke-width="1"/>
<text x="1042.8" y="677.8" font-size="17" font-weight="bold" fill="#000" textLength="217.5" lengthAdjust="spacingAndGlyphs">Public Participation phase</text>
<path d="M1182.4,509.7 H1275.8 L1252.1,425.9 L1291.7,509.7 H1386.3 Q1393.3,509.7 1393.3,516.7 V540.9 Q1393.3,547.9 1386.3,547.9 H1182.4 Q1175.4,547.9 1175.4,540.9 V516.7 Q1175.4,509.7 1182.4,509.7 Z" fill="rgba(0,188,212,0.7)" stroke="rgba(0,172,193,0.55)" stroke-width="1"/>
<text x="1186.3" y="533.5" font-size="17" font-weight="bold" fill="#000" textLength="196.0" lengthAdjust="spacingAndGlyphs">Re-Accumulation Phase</text>
<path d="M1319.1,388.3 H1368.1 L1361.4,321.3 L1385.0,388.3 H1435.6 Q1442.6,388.3 1442.6,395.3 V419.5 Q1442.6,426.5 1435.6,426.5 H1319.1 Q1312.1,426.5 1312.1,419.5 V395.3 Q1312.1,388.3 1319.1,388.3 Z" fill="rgba(0,188,212,0.7)" stroke="rgba(0,172,193,0.55)" stroke-width="1"/>
<text x="1323.0" y="412.1" font-size="17" font-weight="bold" fill="#000" textLength="108.7" lengthAdjust="spacingAndGlyphs">Excess Phase</text>
<g transform="translate(1317.4,783.1)"><circle r="9.7" fill="#fff" stroke="#9c27b0" stroke-width="1.4"/><circle cx="7" cy="-6.8" r="4.4" fill="#fff"/><circle cx="7" cy="-6.8" r="2.5" fill="#f23645"/><path d="M2.2,-5.2 L-3.6,1 H0 L-2.4,5.6 L3.6,-0.9 H0.2 Z" fill="#9c27b0"/></g>
<g transform="translate(1317.4,807.9)"><circle r="10.2" fill="#fff" stroke="#e0364a" stroke-width="1.6"/><clipPath id="fl"><circle r="7.9"/></clipPath><g clip-path="url(#fl)"><rect x="-8" y="-8" width="16" height="16" fill="#fff"/><path d="M-8,-6.6H8M-8,-2.2H8M-8,2.2H8M-8,6.6H8" stroke="#ef4a4a" stroke-width="2.2"/><rect x="-8" y="-8" width="9" height="8.6" fill="#3b8def"/><path d="M-6,-5.8h.1M-3.4,-5.8h.1M-.8,-5.8h.1M-6,-3.4h.1M-3.4,-3.4h.1M-.8,-3.4h.1M-6,-1h.1M-3.4,-1h.1M-.8,-1h.1" stroke="#fff" stroke-width="1" stroke-linecap="round"/></g></g>
<rect x="1759.4" y="28.5" width="64.6" height="792" fill="#fff"/>
<text x="1768" y="809.9" class="t" font-size="12" fill="#131722" textLength="46.3" lengthAdjust="spacingAndGlyphs">1,400.00</text>
<text x="1768" y="768.8" class="t" font-size="12" fill="#131722" textLength="46.3" lengthAdjust="spacingAndGlyphs">1,600.00</text>
<text x="1768" y="727.7" class="t" font-size="12" fill="#131722" textLength="46.3" lengthAdjust="spacingAndGlyphs">1,800.00</text>
<text x="1768" y="686.6" class="t" font-size="12" fill="#131722" textLength="46.3" lengthAdjust="spacingAndGlyphs">2,000.00</text>
<text x="1768" y="645.5" class="t" font-size="12" fill="#131722" textLength="46.3" lengthAdjust="spacingAndGlyphs">2,200.00</text>
<text x="1768" y="604.4" class="t" font-size="12" fill="#131722" textLength="46.3" lengthAdjust="spacingAndGlyphs">2,400.00</text>
<text x="1768" y="563.3" class="t" font-size="12" fill="#131722" textLength="46.3" lengthAdjust="spacingAndGlyphs">2,600.00</text>
<text x="1768" y="522.2" class="t" font-size="12" fill="#131722" textLength="46.3" lengthAdjust="spacingAndGlyphs">2,800.00</text>
<text x="1768" y="481.1" class="t" font-size="12" fill="#131722" textLength="46.3" lengthAdjust="spacingAndGlyphs">3,000.00</text>
<text x="1768" y="440.0" class="t" font-size="12" fill="#131722" textLength="46.3" lengthAdjust="spacingAndGlyphs">3,200.00</text>
<text x="1768" y="398.9" class="t" font-size="12" fill="#131722" textLength="46.3" lengthAdjust="spacingAndGlyphs">3,400.00</text>
<text x="1768" y="357.8" class="t" font-size="12" fill="#131722" textLength="46.3" lengthAdjust="spacingAndGlyphs">3,600.00</text>
<text x="1768" y="316.7" class="t" font-size="12" fill="#131722" textLength="46.3" lengthAdjust="spacingAndGlyphs">3,800.00</text>
<text x="1768" y="275.6" class="t" font-size="12" fill="#131722" textLength="46.3" lengthAdjust="spacingAndGlyphs">4,000.00</text>
<text x="1768" y="234.5" class="t" font-size="12" fill="#131722" textLength="46.3" lengthAdjust="spacingAndGlyphs">4,200.00</text>
<text x="1768" y="193.4" class="t" font-size="12" fill="#131722" textLength="46.3" lengthAdjust="spacingAndGlyphs">4,400.00</text>
<text x="1768" y="152.3" class="t" font-size="12" fill="#131722" textLength="46.3" lengthAdjust="spacingAndGlyphs">4,600.00</text>
<text x="1768" y="111.2" class="t" font-size="12" fill="#131722" textLength="46.3" lengthAdjust="spacingAndGlyphs">4,800.00</text>
<rect x="1760" y="55.5" width="60" height="17.2" fill="#089981" rx="1.5"/>
<text x="1768" y="67.7" font-size="12" font-weight="bold" fill="#fff" fill-opacity="1" textLength="46.3" lengthAdjust="spacingAndGlyphs">5,011.54</text>
<rect x="1760" y="161.3" width="60" height="16.3" fill="#ea3347" rx="1.5"/>
<text x="1768" y="172.7" font-size="12" font-weight="bold" fill="#fff" fill-opacity="1" textLength="46.3" lengthAdjust="spacingAndGlyphs">4,502.87</text>
<rect x="1760" y="197.4" width="60" height="16.5" fill="#ea3347" rx="1.5"/>
<text x="1768" y="208.6" font-size="12" font-weight="bold" fill="#fff" fill-opacity="1" textLength="46.3" lengthAdjust="spacingAndGlyphs">4,306.96</text>
<rect x="1760" y="214.2" width="60" height="31.0" fill="#089981" rx="1.5"/>
<text x="1768" y="226.4" font-size="12" font-weight="bold" fill="#fff" fill-opacity="1" textLength="46.3" lengthAdjust="spacingAndGlyphs">4,243.74</text>
<text x="1768" y="239.4" font-size="12" font-weight="bold" fill="#fff" fill-opacity="0.78" textLength="46.3" lengthAdjust="spacingAndGlyphs">09:46:20</text>
<rect x="1760" y="246.2" width="60" height="16.5" fill="#2962ff" rx="1.5"/>
<text x="1768" y="257.7" font-size="12" font-weight="bold" fill="#fff" fill-opacity="1" textLength="46.3" lengthAdjust="spacingAndGlyphs">4,089.49</text>
<rect x="1760" y="28.5" width="64" height="32.6" fill="#fff"/>
<rect x="1763" y="31.8" width="57" height="23.8" rx="3" fill="#fff" stroke="#eef0f4" stroke-width="1"/>
<text x="1772.5" y="48.8" class="t" font-size="12" fill="#131722" textLength="19.8" lengthAdjust="spacingAndGlyphs">USD</text>
<text x="25.1" y="839.2" font-size="12" font-weight="bold" fill="#131722" text-anchor="middle" textLength="27" lengthAdjust="spacingAndGlyphs">2020</text>
<text x="136.2" y="839.2" class="t" font-size="12" fill="#131722" text-anchor="middle" textLength="16" lengthAdjust="spacingAndGlyphs">Jul</text>
<text x="249.3" y="839.2" font-size="12" font-weight="bold" fill="#131722" text-anchor="middle" textLength="27" lengthAdjust="spacingAndGlyphs">2021</text>
<text x="359.2" y="839.2" class="t" font-size="12" fill="#131722" text-anchor="middle" textLength="16" lengthAdjust="spacingAndGlyphs">Jul</text>
<text x="472.0" y="839.2" font-size="12" font-weight="bold" fill="#131722" text-anchor="middle" textLength="27" lengthAdjust="spacingAndGlyphs">2022</text>
<text x="583.1" y="839.2" class="t" font-size="12" fill="#131722" text-anchor="middle" textLength="16" lengthAdjust="spacingAndGlyphs">Jul</text>
<text x="694.8" y="839.2" font-size="12" font-weight="bold" fill="#131722" text-anchor="middle" textLength="27" lengthAdjust="spacingAndGlyphs">2023</text>
<text x="806.2" y="839.2" class="t" font-size="12" fill="#131722" text-anchor="middle" textLength="16" lengthAdjust="spacingAndGlyphs">Jul</text>
<text x="917.1" y="839.2" font-size="12" font-weight="bold" fill="#131722" text-anchor="middle" textLength="27" lengthAdjust="spacingAndGlyphs">2024</text>
<text x="1028.1" y="839.2" class="t" font-size="12" fill="#131722" text-anchor="middle" textLength="16" lengthAdjust="spacingAndGlyphs">Jul</text>
<text x="1141.0" y="839.2" font-size="12" font-weight="bold" fill="#131722" text-anchor="middle" textLength="27" lengthAdjust="spacingAndGlyphs">2025</text>
<text x="1251.3" y="839.2" class="t" font-size="12" fill="#131722" text-anchor="middle" textLength="16" lengthAdjust="spacingAndGlyphs">Jul</text>
<text x="1364.1" y="839.2" font-size="12" font-weight="bold" fill="#131722" text-anchor="middle" textLength="27" lengthAdjust="spacingAndGlyphs">2026</text>
<text x="1476.0" y="839.2" class="t" font-size="12" fill="#131722" text-anchor="middle" textLength="16" lengthAdjust="spacingAndGlyphs">Jul</text>
<text x="1588.8" y="839.2" font-size="12" font-weight="bold" fill="#131722" text-anchor="middle" textLength="27" lengthAdjust="spacingAndGlyphs">2027</text>
<text x="1701.0" y="839.2" class="t" font-size="12" fill="#131722" text-anchor="middle" textLength="16" lengthAdjust="spacingAndGlyphs">Jul</text>
<text x="10.3" y="18.7" class="t" font-size="12" fill="#131722" textLength="69.9" lengthAdjust="spacingAndGlyphs">FXNEWSCLUB</text>
<text x="84.2" y="18.7" class="t" font-size="12" fill="#131722" textLength="41.1" lengthAdjust="spacingAndGlyphs">created</text>
<text x="129.3" y="18.7" class="t" font-size="12" fill="#131722" textLength="23.1" lengthAdjust="spacingAndGlyphs">with</text>
<text x="156.9" y="18.7" class="t" font-size="12" fill="#131722" textLength="92.5" lengthAdjust="spacingAndGlyphs">TradingView.com,</text>
<text x="255.2" y="18.7" class="t" font-size="12" fill="#131722" textLength="19.0" lengthAdjust="spacingAndGlyphs">Oct</text>
<text x="278.8" y="18.7" class="t" font-size="12" fill="#131722" textLength="14.7" lengthAdjust="spacingAndGlyphs">16,</text>
<text x="298.3" y="18.7" class="t" font-size="12" fill="#131722" textLength="25.1" lengthAdjust="spacingAndGlyphs">2025</text>
<text x="327.4" y="18.7" class="t" font-size="12" fill="#131722" textLength="28.6" lengthAdjust="spacingAndGlyphs">15:13</text>
<text x="360.5" y="18.7" class="t" font-size="12" fill="#131722" textLength="34.3" lengthAdjust="spacingAndGlyphs">UTC+4</text>
<text x="18.2" y="45.6" class="t" font-size="12" fill="#131722" textLength="21.4" lengthAdjust="spacingAndGlyphs">Gold</text>
<text x="43.6" y="45.6" class="t" font-size="12" fill="#131722" textLength="25.1" lengthAdjust="spacingAndGlyphs">Spot</text>
<text x="75.2" y="45.6" class="t" font-size="12" fill="#131722" textLength="4.0" lengthAdjust="spacingAndGlyphs">/</text>
<text x="83.2" y="45.6" class="t" font-size="12" fill="#131722" textLength="20.3" lengthAdjust="spacingAndGlyphs">U.S.</text>
<text x="109.3" y="45.6" class="t" font-size="12" fill="#131722" textLength="32.1" lengthAdjust="spacingAndGlyphs">Dollar</text>
<text x="145.8" y="45.6" class="t" font-size="12" font-weight="bold" fill="#131722" textLength="2.8" lengthAdjust="spacingAndGlyphs">·</text>
<text x="153.6" y="45.6" class="t" font-size="12" fill="#131722" textLength="12.4" lengthAdjust="spacingAndGlyphs">1D</text>
<text x="170.8" y="45.6" class="t" font-size="12" font-weight="bold" fill="#131722" textLength="2.8" lengthAdjust="spacingAndGlyphs">·</text>
<text x="178.0" y="45.6" class="t" font-size="12" fill="#131722" textLength="61.1" lengthAdjust="spacingAndGlyphs">FOREX.com</text>
<text x="247.2" y="45.6" class="t" font-size="12" fill="#131722" textLength="6.9" lengthAdjust="spacingAndGlyphs">O</text>
<text x="255.0" y="45.6" class="g" font-size="12" fill="#089981" textLength="46.3" lengthAdjust="spacingAndGlyphs">4,207.63</text>
<text x="309.3" y="45.6" class="t" font-size="12" fill="#131722" textLength="6.8" lengthAdjust="spacingAndGlyphs">H</text>
<text x="317.0" y="45.6" class="g" font-size="12" fill="#089981" textLength="46.0" lengthAdjust="spacingAndGlyphs">4,246.17</text>
<text x="370.5" y="45.6" class="t" font-size="12" fill="#131722" textLength="4.9" lengthAdjust="spacingAndGlyphs">L</text>
<text x="376.3" y="45.6" class="g" font-size="12" fill="#089981" textLength="46.3" lengthAdjust="spacingAndGlyphs">4,199.67</text>
<text x="430.2" y="45.6" class="t" font-size="12" fill="#131722" textLength="6.4" lengthAdjust="spacingAndGlyphs">C</text>
<text x="437.5" y="45.6" class="g" font-size="12" fill="#089981" textLength="46.8" lengthAdjust="spacingAndGlyphs">4,243.74</text>
<text x="491.3" y="45.6" class="g" font-size="12" fill="#089981" textLength="84.7" lengthAdjust="spacingAndGlyphs">+36.11 (+0.86%)</text>
<g fill="#131722"><path d="M11.8,871.3H24.5V886H17.7V877H11.8Z"/><circle cx="29.4" cy="874.1" r="2.8"/><path d="M34.4,871.3H41.8L35.7,886H28.2Z"/></g>
<text x="49" y="886" font-size="20.5" font-weight="bold" fill="#131722" textLength="121" lengthAdjust="spacingAndGlyphs">TradingView</text>
</svg></body></html>
